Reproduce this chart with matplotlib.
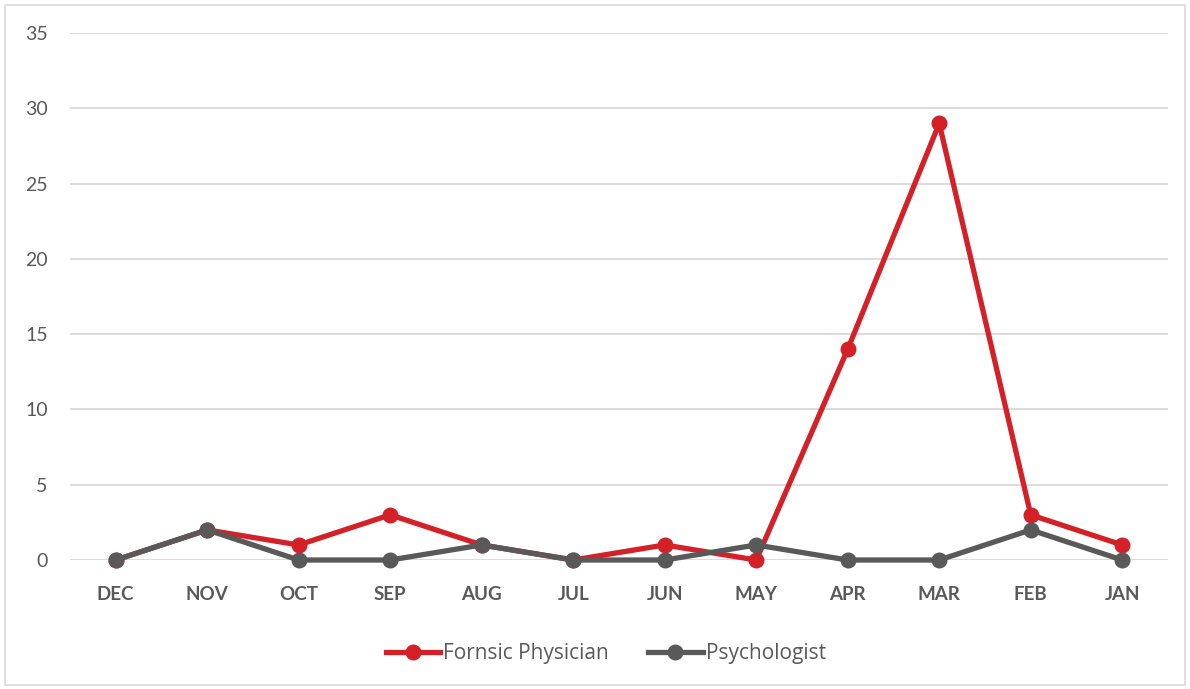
import matplotlib
matplotlib.use("Agg")
import matplotlib.pyplot as plt
from matplotlib.patches import Rectangle

months = ["DEC", "NOV", "OCT", "SEP", "AUG", "JUL", "JUN", "MAY", "APR", "MAR", "FEB", "JAN"]
forensic = [0, 2, 1, 3, 1, 0, 1, 0, 14, 29, 3, 1]
psychologist = [0, 2, 0, 0, 1, 0, 0, 1, 0, 0, 2, 0]

RED = "#D42027"
GRAY = "#595959"
TEXT = "#595959"

fig = plt.figure(figsize=(11.9, 6.89), dpi=100)
fig.patches.append(Rectangle((0.004, 0.006), 0.992, 0.987, transform=fig.transFigure,
                             fill=False, edgecolor="#D9D9D9", linewidth=1.2))
ax = fig.add_axes([0.0588, 0.1872, 0.9227, 0.7648])

x = range(len(months))
ax.plot(x, forensic, color=RED, linewidth=3.8, marker="o", markersize=10.5,
        label="Fornsic Physician", clip_on=False, zorder=3)
ax.plot(x, psychologist, color=GRAY, linewidth=3.8, marker="o", markersize=10.5,
        label="Psychologist", clip_on=False, zorder=4)

ax.set_xlim(-0.5, len(months) - 0.5)
ax.set_ylim(0, 35)
ax.set_yticks(range(0, 36, 5))
ax.set_xticks(list(x))
ax.set_xticklabels(months, fontsize=13.5, fontweight="bold", color=TEXT, family="Lato")
for lbl in ax.get_yticklabels():
    lbl.set_fontsize(14)
    lbl.set_color(TEXT)
    lbl.set_family("Lato")
ax.tick_params(axis="both", length=0)
ax.tick_params(axis="x", pad=19)
ax.tick_params(axis="y", pad=16)
ax.grid(axis="y", color="#D9D9D9", linewidth=1.3)
ax.set_axisbelow(True)
for s in ax.spines.values():
    s.set_visible(False)

leg = ax.legend(loc="center", bbox_to_anchor=(0.488, -0.178), ncol=2, frameon=False,
                prop={"family": "Open Sans", "size": 15}, handlelength=2.6,
                columnspacing=1.9, handletextpad=0.15)
for t in leg.get_texts():
    t.set_color(TEXT)

fig.savefig("out.png", dpi=100)
